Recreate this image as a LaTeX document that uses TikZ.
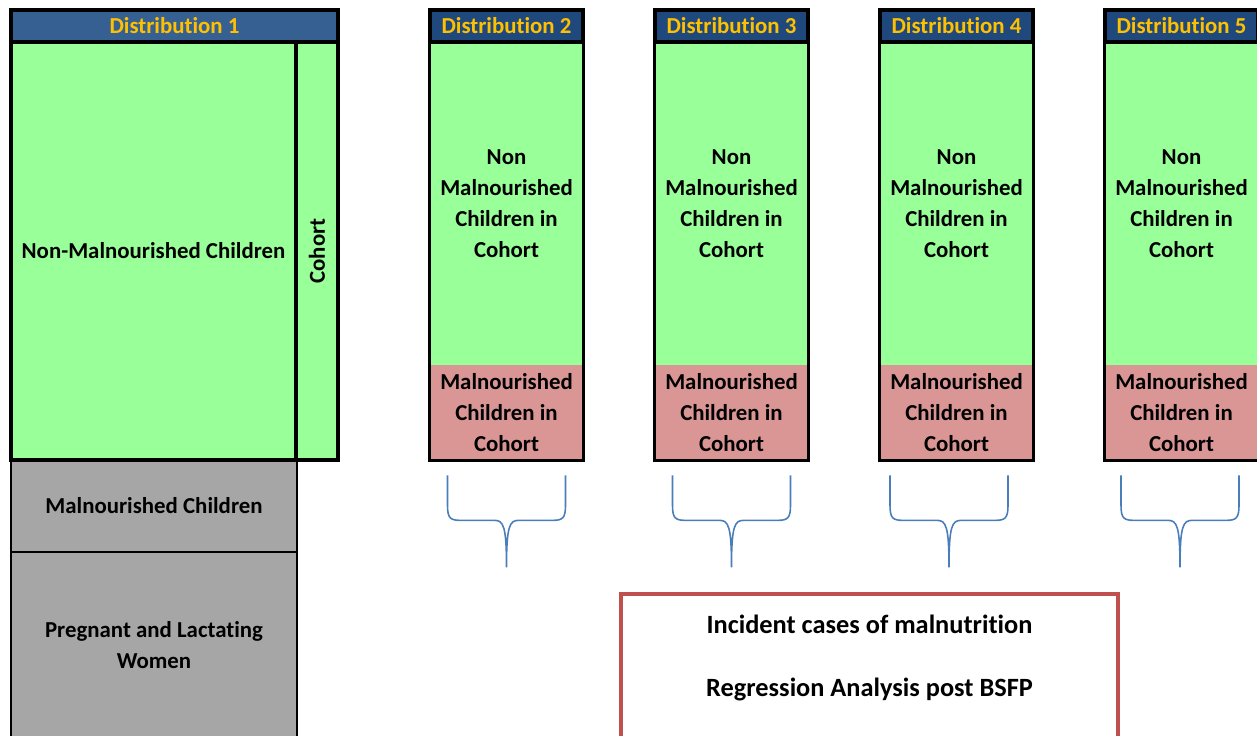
\documentclass[tikz,border=0pt]{standalone}
\usepackage{fontspec}
\setmainfont{Carlito}[Ligatures=NoCommon, Contextuals=NoAlternate, RawFeature={-liga;-clig;-calt}]
\newlength{\px}
\setlength{\px}{0.02cm}
\definecolor{hdrlight}{HTML}{376092}
\definecolor{hdrdark}{HTML}{1F497D}
\definecolor{hdrgold}{HTML}{FFC000}
\definecolor{nongreen}{HTML}{99FF99}
\definecolor{malpink}{HTML}{D99694}
\definecolor{othergray}{HTML}{A6A6A6}
\definecolor{bracebl}{HTML}{4A7EBB}
\definecolor{resred}{HTML}{C0504D}
\tikzset{
  hdr/.style={draw, line width=1.8pt, fill=hdrdark, text=hdrgold, minimum width=153\px, minimum height=32\px, inner sep=0pt},
  grn/.style={fill=nongreen, align=center, inner sep=0pt},
  pnk/.style={fill=malpink, align=center, inner sep=0pt, minimum width=153\px, minimum height=95\px},
  gry/.style={draw, line width=1pt, fill=othergray, align=center, minimum width=286\px, inner sep=0pt},
  edge/.style={draw, line width=1.8pt},
  brace/.style={draw=bracebl, line width=0.9pt},
  cbrace/.pic={\draw[brace] (-59,15) -- (-59,45) .. controls (-59,58) and (-56,60) .. (-46,60) -- (-12,60) .. controls (-3,60) and (0,66) .. (0,107) .. controls (0,66) and (3,60) .. (12,60) -- (46,60) .. controls (56,60) and (59,58) .. (59,45) -- (59,15);}
}
\begin{document}
\begin{tikzpicture}[x=0.02cm, y=-0.02cm, font=\fontsize{13}{17.6}\selectfont\bfseries]
            \clip (0,0) rectangle (1257,736);

            % first distribution
            \node[gry, minimum height=92\px] (M1) at (154,506) {Malnourished Children};
            \node[gry, minimum height=186\px] (P1) at (154,645) {Pregnant and Lactating\\Women};
            \node[hdr, fill=hdrlight, minimum width=327\px] (H1) at (174.5,26) {Distribution 1};
            \node[grn, edge, minimum width=285\px, minimum height=418\px] (N1) at (153.5,251) {Non-Malnourished Children};
            \node[grn, edge, rotate=90, minimum width=418\px, minimum height=42\px] (C1) at (317,251) {Cohort};

            % later distributions
            \node[grn, minimum width=153\px, minimum height=323\px] (G2) at (506.5,203.5) {Non\\Malnourished\\Children in\\Cohort};
            \node[grn, minimum width=153\px, minimum height=323\px] (G3) at (731.5,203.5) {Non\\Malnourished\\Children in\\Cohort};
            \node[grn, minimum width=153\px, minimum height=323\px] (G4) at (956.5,203.5) {Non\\Malnourished\\Children in\\Cohort};
            \node[grn, minimum width=153\px, minimum height=323\px] (G5) at (1181.5,203.5) {Non\\Malnourished\\Children in\\Cohort};
            \node[pnk] (R2) at (506.5,412.5) {Malnourished\\Children in\\Cohort};
            \node[pnk] (R3) at (731.5,412.5) {Malnourished\\Children in\\Cohort};
            \node[pnk] (R4) at (956.5,412.5) {Malnourished\\Children in\\Cohort};
            \node[pnk] (R5) at (1181.5,412.5) {Malnourished\\Children in\\Cohort};
            \draw[edge] (G2.north west) rectangle (R2.south east); \draw[edge] (G3.north west) rectangle (R3.south east);
            \draw[edge] (G4.north west) rectangle (R4.south east); \draw[edge] (G5.north west) rectangle (R5.south east);
            \node[hdr] (H2) at (506.5,26) {Distribution 2};
            \node[hdr] (H3) at (731.5,26) {Distribution 3};
            \node[hdr] (H4) at (956.5,26) {Distribution 4};
            \node[hdr] (H5) at (1181.5,26) {Distribution 5};

            \pic at (R2.south) {cbrace}; \pic at (R3.south) {cbrace}; \pic at ([xshift=-7.5\px]R4.south) {cbrace}; \pic at ([xshift=-1.5\px]R5.south) {cbrace};

            % results box
            \node[draw=resred, line width=2.2pt, minimum width=497\px, minimum height=212\px] (RB) at (869.5,700) {};
            \node[font=\fontsize{15}{18}\selectfont\bfseries] (IC) at (869.5,624) {Incident cases of malnutrition};
            \node[font=\fontsize{15}{18}\selectfont\bfseries] (RA) at (869.5,689) {Regression Analysis post BSFP};
        \end{tikzpicture}
\end{document}
